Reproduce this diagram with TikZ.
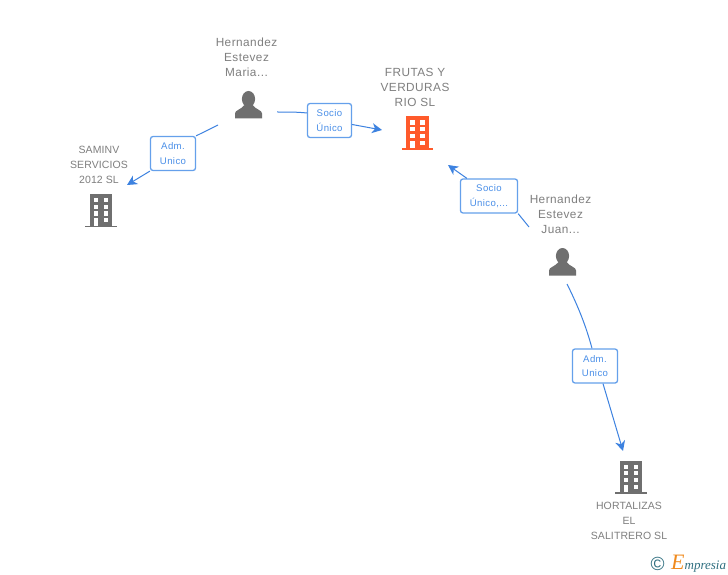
\documentclass[tikz,border=0pt]{standalone}
\usepackage{fontspec}
\setmainfont{Liberation Sans}[LetterSpace=4]
\newfontfamily\logofont{Liberation Serif}
\newfontfamily\entityfont{Liberation Sans}[LetterSpace=1]
\usepackage{tikz}
\usetikzlibrary{arrows.meta}

\definecolor{linkblue}{HTML}{3D82E0}
\definecolor{labelblue}{HTML}{4A8FE8}
\definecolor{iconorange}{HTML}{FF5A2B}
\definecolor{icongray}{HTML}{6F6F6F}
\definecolor{textgray}{HTML}{7F7F7F}
\definecolor{logoteal}{HTML}{2F6F80}
\definecolor{logoorange}{HTML}{F08A1D}

\tikzset{
    entity/.style={text=textgray, align=center, inner sep=0pt, font=\entityfont\fontsize{10.5}{15}\selectfont},
    bigentity/.style={entity, font=\fontsize{11.8}{15}\selectfont},
    rolebox/.style={draw=labelblue!85, line width=1.3pt, rounded corners=2.5pt, fill=white, text=labelblue,
        align=center, inner sep=0pt, font=\fontsize{9.6}{14.5}\selectfont},
    link/.style={draw=linkblue, line width=1pt},
    linkarrow/.style={link, -{Stealth[length=10pt,width=10pt,inset=3pt]}},
    pics/building/.style={code={
        \fill (-11.2,-16.5) rectangle (11.2,15.2);
        \fill (-15.7,15.2) rectangle (15.7,16.9);
        \foreach \ypos in {-12.5,-5.8,0.9} {
            \fill[white] (-7.2,\ypos) rectangle (-2.6,\ypos+4.2);
            \fill[white] (2.8,\ypos) rectangle (7.4,\ypos+4.2);
        }
        \fill[white] (-7.2,7.6) rectangle (-2.6,15.2);
        \fill[white] (2.8,7.6) rectangle (7.4,11.8);
    }},
    pics/person/.style={code={
        \fill (0,-6) ellipse (6.6pt and 8pt);
        \fill (-13.5,13.5) -- (-13.5,8.5) .. controls (-13.5,5) and (-7,4.5) .. (-4,0)
            -- (4,0) .. controls (7,4.5) and (13.5,5) .. (13.5,8.5) -- (13.5,13.5) -- cycle;
    }}
}

\begin{document}
\begin{tikzpicture}[x=1pt, y=-1pt]
    \useasboundingbox[fill=white] (0,0) rectangle (728,575);

    % Companies and people
    \node[bigentity] (frutas) at (415,87) {FRUTAS Y\\VERDURAS\\RIO SL};
    \pic[color=iconorange] at (417.5,133) {building};
    \node[entity] (saminv) at (99,165) {SAMINV\\SERVICIOS\\2012 SL};
    \pic[color=icongray] at (101,210.5) {building};
    \node[entity] (hortalizas) at (629,521) {HORTALIZAS\\EL\\SALITRERO SL};
    \pic[color=icongray] at (631,477) {building};
    \node[bigentity] (maria) at (246.5,57) {Hernandez\\Estevez\\Maria...};
    \pic[color=icongray] at (248.5,105) {person};
    \node[bigentity] (juan) at (560.5,214) {Hernandez\\Estevez\\Juan...};
    \pic[color=icongray] at (562.5,262) {person};

    % Role labels
    \node[rolebox, minimum width=44pt, minimum height=34pt] (rolefrutas) at (329.5,120.5) {Socio\\Único};
    \node[rolebox, minimum width=45pt, minimum height=34pt] (rolesaminv) at (173,153.5) {Adm.\\Unico};
    \node[rolebox, minimum width=57pt, minimum height=34pt] (rolejuan) at (489,196) {Socio\\Único,...};
    \node[rolebox, minimum width=45pt, minimum height=34pt] (rolehort) at (595,366) {Adm.\\Unico};

    % Free ends of the links
    \coordinate (mariaright) at (277,112);
    \coordinate (marialeft) at (218,125);
    \coordinate (saminvtip) at (127,185);
    \coordinate (frutastip) at (382,130);
    \coordinate (juanup) at (529,227);
    \coordinate (juantip) at (448,165);
    \coordinate (juandown) at (567,284);
    \coordinate (horttip) at (623,451);

    % Links
    \draw[link] (mariaright) .. controls (288,112) and (298,112) .. (rolefrutas.west |- 0,113);
    \draw[linkarrow] (rolefrutas.east |- 0,124.5) -- (frutastip);
    \draw[link] (marialeft) -- (rolesaminv.north east);
    \draw[linkarrow] (rolesaminv.south west) -- (saminvtip);
    \draw[link] (juanup) -- (rolejuan.south east);
    \draw[linkarrow] (rolejuan.north west) ++(7,0) -- (juantip);
    \draw[link] (juandown) .. controls (578,306) and (586,326) .. (rolehort.north -| 592,0);
    \draw[linkarrow] (rolehort.south -| 603,0) -- (horttip);

    % Logo
    \node[inner sep=0pt, text=logoteal, font=\fontsize{19}{19}\selectfont] (copyr) at (657.5,563.5) {©};
    \node[inner sep=0pt, anchor=west, font=\logofont\itshape\fontsize{13}{13}\selectfont] (logo) at (671,564)
        {\textcolor{logoorange}{\fontsize{22}{22}\selectfont E}\textcolor{logoteal}{mpresia}};
\end{tikzpicture}
\end{document}
